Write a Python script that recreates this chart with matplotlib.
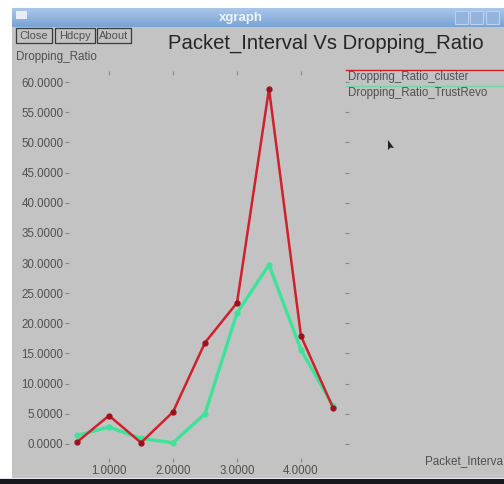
import numpy as np
import matplotlib.pyplot as plt
from matplotlib.colors import LinearSegmentedColormap
from matplotlib.patches import Rectangle, Polygon
from matplotlib.lines import Line2D

packet_interval = [0.5, 1.0, 1.5, 2.0, 2.5, 3.0, 3.5, 4.0, 4.5]
ratio_cluster = [0.3, 4.7, 0.2, 5.3, 16.8, 23.4, 58.9, 17.9, 6.0]
ratio_trustrevo = [1.4, 2.8, 0.9, 0.2, 5.0, 21.7, 29.7, 15.6, 6.3]
series_names = ['Dropping_Ratio_cluster', 'Dropping_Ratio_TrustRevo']
y_ticks = [0, 5, 10, 15, 20, 25, 30, 35, 40, 45, 50, 55, 60]
x_ticks = [1, 2, 3, 4]

W, H = 504, 484
bg = '#c3c3c3'
txt = '#505050'
red = '#d0202c'
green = '#3ee39a'
small = 8.3

plt.rcParams['font.family'] = ['Liberation Sans', 'DejaVu Sans']

fig = plt.figure(figsize=(W / 100, H / 100), dpi=100)
fig.patch.set_facecolor('white')


def px(x, y, w, h):
    # pixel box (top-left origin) -> figure fraction
    return (x / W, 1 - (y + h) / H, w / W, h / H)


def fx(x):
    return x / W


def fy(y):
    return 1 - y / H


# window body
x0, y0, w0, h0 = px(12, 8, 492, 470)
fig.patches.append(Rectangle((x0, y0), w0, h0, transform=fig.transFigure,
                             facecolor=bg, edgecolor='none', zorder=-10))
# title bar
grad = np.linspace(0, 1, 20).reshape(-1, 1)
tb = fig.add_axes(px(12, 8, 492, 19))
tb.imshow(grad, aspect='auto', extent=(0, 1, 0, 1),
          cmap=LinearSegmentedColormap.from_list('tb', ['#a9c6ea', '#7aa3d6']))
tb.set_axis_off()
tb.text(0.465, 0.5, 'xgraph', color='#eef4ff', fontsize=9.5, fontweight='bold',
        ha='center', va='center', transform=tb.transAxes)
for bx in [455, 470, 486]:
    fig.patches.append(Rectangle(px(bx, 11, 13, 13)[:2], 13 / W, 13 / H,
                                 transform=fig.transFigure, facecolor='#92b3de',
                                 edgecolor='#bcd1ee', lw=0.8, zorder=5))
fig.patches.append(Rectangle(px(16, 11, 11, 8)[:2], 11 / W, 8 / H,
                             transform=fig.transFigure, facecolor='#e8eef8',
                             edgecolor='none', zorder=5))
# bottom edge of the screen
fig.patches.append(Rectangle((0, 0), 1, 5 / H, transform=fig.transFigure,
                             facecolor='#15181d', edgecolor='none', zorder=5))
fig.patches.append(Rectangle((0, 5 / H), 1, 1.5 / H, transform=fig.transFigure,
                             facecolor='#e6e9ee', edgecolor='none', zorder=5))

# buttons
for label, bx, bw in [('Close', 16, 36), ('Hdcpy', 55, 40), ('About', 97, 34)]:
    fig.patches.append(Rectangle(px(bx, 28, bw, 15)[:2], bw / W, 15 / H,
                                 transform=fig.transFigure, facecolor=bg,
                                 edgecolor='#3a3a3a', lw=0.9, zorder=5))
    fig.text(fx(bx + bw / 2), fy(36), label, fontsize=8.0, color=txt,
             ha='center', va='center', zorder=6)

fig.text(fx(326), fy(43), 'Packet_Interval Vs Dropping_Ratio', fontsize=14.6,
         color='#262626', ha='center', va='center')
fig.text(fx(16), fy(57), 'Dropping_Ratio', fontsize=8.4, color=txt,
         ha='left', va='center')
fig.text(fx(425), fy(461), 'Packet_Interva', fontsize=8.4, color=txt,
         ha='left', va='center')

# plot area
ax = fig.add_axes(px(69, 71, 276, 391))
ax.patch.set_alpha(0)
for s in ax.spines.values():
    s.set_visible(False)
ax.plot(packet_interval, ratio_trustrevo, color=green, lw=2.4, marker='o',
        ms=3.5, mfc=green, mec=green)
ax.plot(packet_interval, ratio_cluster, color=red, lw=1.8, marker='o',
        ms=3.5, mfc='#a0101c', mec='#a0101c')
ax.set_xlim(0.375, 4.6875)
ax.set_ylim(-3.0, 61.85)
ax.set_yticks(y_ticks)
ax.set_yticklabels(['%.4f' % v for v in y_ticks])
ax.set_xticks(x_ticks)
ax.set_xticklabels(['%.4f' % v for v in x_ticks])
ax.tick_params(axis='y', left=True, right=True, direction='out', length=3,
               width=0.8, color='#8a8a8a', labelsize=small, labelcolor=txt, pad=1)
ax.tick_params(axis='x', bottom=True, top=True, direction='in', length=3,
               width=0.8, color='#8a8a8a', labelsize=small, labelcolor=txt, pad=2)
for t in ax.yaxis.get_major_ticks():
    t.tick2line.set_color('#e4e4e4')

# legend drawn like xgraph, lines across the top right
fig.add_artist(Line2D([fx(346), fx(504)], [fy(70), fy(70)], color=red, lw=1,
                      transform=fig.transFigure))
fig.add_artist(Line2D([fx(346), fx(504)], [fy(85.5), fy(85.5)], color=green,
                      lw=1, transform=fig.transFigure, alpha=0.6))
fig.text(fx(348), fy(77), series_names[0], fontsize=small, color=txt,
         ha='left', va='center')
fig.text(fx(348), fy(93), series_names[1], fontsize=small, color=txt,
         ha='left', va='center')

# mouse pointer
fig.patches.append(Polygon([(fx(388), fy(140)), (fx(388), fy(150)),
                            (fx(390.5), fy(147.5)), (fx(394), fy(148))],
                           closed=True, transform=fig.transFigure,
                           facecolor='#202020', edgecolor='none', zorder=6))

fig.savefig('out.png', dpi=100, facecolor=fig.get_facecolor())
